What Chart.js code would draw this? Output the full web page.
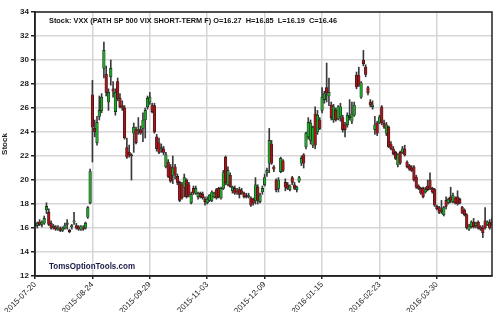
<!DOCTYPE html>
<html>
<head>
<meta charset="utf-8">
<script src="https://cdn.jsdelivr.net/npm/chart.js@4.4.1/dist/chart.umd.min.js"></script>
<style>
  html, body { margin: 0; padding: 0; background: #fff; }
  #chart { display: block; }
</style>
</head>
<body>
<canvas id="chart" width="500" height="312"></canvas>
<script>
// VXX daily candles, 2015-07-20 .. 2016-05-03
const titleText = 'Stock: VXX (PATH SP 500 VIX SHORT-TERM F) O=16.27  H=16.85  L=16.19  C=16.46';
const watermark = 'TomsOptionTools.com';
const tickLabels = ['2015-07-20', '2015-08-24', '2015-09-29', '2015-11-03', '2015-12-09', '2016-01-15', '2016-02-23', '2016-03-30'];
const holidays = ['2015-09-07', '2015-11-26', '2015-12-25', '2016-01-01', '2016-01-18', '2016-02-15', '2016-03-25'];

const opens = [
  16.3, 16.2, 16.5, 16.3, 16.4, 17.5, 17.3, 16.4, 16.05, 16.1,
  15.9, 16.0, 15.8, 16.0, 16.3, 15.8, 16.1, 16.5, 16.2, 16.1,
  15.9, 16.0, 16.0, 16.9, 18.1, 27.1, 24.3, 23.1, 25.3, 25.8,
  29.3, 28.8, 26.5, 28.6, 27.6, 25.7, 28.2, 26.8, 26.2, 26.0,
  22.7, 22.3, 22.1, 23.9, 24.2, 24.1, 24.2, 24.3, 25.0, 26.1,
  26.5, 26.2, 26.2, 23.6, 23.1, 22.6, 22.6, 21.1, 21.5, 21.1,
  20.4, 21.1, 20.3, 19.8, 19.6, 19.4, 20.0, 19.6, 18.1, 19.3,
  18.9, 18.6, 18.9, 18.8, 18.4, 18.1, 18.3, 18.3, 18.6, 19.2,
  19.3, 18.5, 19.3, 21.9, 19.6, 20.4, 19.1, 19.3, 19.1, 19.2,
  19.1, 18.9, 18.7, 18.6, 18.5, 18.4, 18.3, 19.4, 18.2, 19.0,
  19.6, 20.6, 21.4, 23.0, 21.1, 20.0, 19.3, 20.7, 21.6, 19.8,
  19.6, 19.2, 20.2, 19.6, 19.2, 19.9, 21.4, 22.1, 22.75, 23.6,
  23.3, 22.9, 25.5, 24.0, 25.0, 25.8, 26.7, 27.7, 27.0, 26.25,
  25.0, 25.8, 25.1, 25.3, 25.2, 24.6, 24.6, 25.2, 24.9, 25.4,
  28.75, 28.7, 26.9, 30.0, 29.4, 27.7, 26.5, 26.1, 24.2, 24.75,
  24.8, 26.1, 24.7, 23.9, 24.4, 23.0, 22.6, 22.3, 21.25, 22.3,
  22.3, 22.6, 21.5, 21.2, 21.0, 21.1, 20.25, 19.5, 19.3, 19.3,
  19.0, 19.5, 20.0, 19.3, 19.2, 17.8, 17.7, 17.5, 17.1, 18.3,
  18.1, 18.6, 18.2, 18.5, 18.6, 18.4, 17.75, 17.5, 17.1, 15.9,
  16.1, 16.5, 16.2, 16.5, 16.1, 16.0, 16.6, 16.3, 16.5, 16.27
];
const highs = [
  16.5, 16.5, 16.7, 16.6, 17.0, 18.1, 17.6, 16.6, 16.3, 16.2,
  16.2, 16.1, 16.1, 16.4, 16.7, 15.9, 16.3, 17.3, 16.4, 16.2,
  16.2, 16.2, 16.5, 17.8, 20.9, 28.3, 25.0, 25.3, 27.0, 27.2,
  31.5, 29.5, 27.6, 30.0, 28.2, 27.6, 28.5, 27.2, 26.6, 26.2,
  23.5, 22.9, 22.2, 24.75, 24.4, 25.2, 24.5, 25.6, 26.0, 27.0,
  27.3, 26.4, 26.4, 23.8, 23.5, 23.0, 22.8, 22.3, 21.7, 21.3,
  22.0, 21.3, 20.5, 19.9, 19.8, 20.5, 20.1, 19.8, 19.0, 19.5,
  19.5, 19.0, 19.0, 19.0, 18.6, 18.6, 18.8, 19.1, 19.0, 19.3,
  19.4, 19.4, 20.8, 22.0, 21.1, 20.6, 19.5, 19.5, 19.3, 19.4,
  19.3, 19.0, 18.9, 18.9, 18.6, 18.5, 20.2, 19.6, 18.9, 19.5,
  20.5, 21.0, 24.3, 23.3, 21.2, 20.1, 20.2, 21.9, 21.7, 20.1,
  19.8, 19.6, 20.3, 19.8, 19.5, 20.3, 22.0, 22.2, 24.0, 25.2,
  25.0, 24.5, 26.1, 25.8, 25.2, 27.7, 27.4, 29.75, 28.5, 26.5,
  26.3, 26.0, 26.2, 26.4, 25.4, 24.8, 25.6, 26.7, 26.5, 26.5,
  29.0, 29.4, 28.2, 30.8, 29.6, 27.8, 26.7, 26.6, 25.3, 24.9,
  25.4, 26.2, 25.0, 24.8, 24.5, 23.2, 22.8, 22.4, 22.2, 22.4,
  22.8, 22.9, 21.6, 21.3, 21.2, 21.2, 20.4, 19.6, 19.4, 19.4,
  19.4, 20.0, 20.6, 19.4, 19.3, 17.9, 17.8, 18.3, 17.8, 18.6,
  18.5, 19.4, 18.9, 18.6, 19.1, 18.5, 17.8, 17.6, 17.2, 16.3,
  16.6, 16.8, 16.5, 16.6, 16.2, 16.2, 17.7, 16.6, 16.7, 16.85
];
const lows = [
  16.1, 16.0, 16.2, 16.1, 16.3, 17.2, 16.2, 15.9, 15.9, 15.8,
  15.8, 15.7, 15.7, 15.9, 15.9, 15.6, 15.9, 16.3, 15.9, 15.8,
  15.8, 15.8, 15.9, 16.8, 18.0, 21.5, 23.6, 22.9, 25.0, 25.6,
  28.5, 27.0, 25.8, 27.9, 26.9, 25.4, 26.6, 26.0, 25.8, 23.4,
  21.8, 21.9, 20.0, 22.3, 23.0, 23.8, 23.8, 23.2, 23.5, 25.9,
  26.3, 25.6, 23.9, 22.4, 22.2, 22.3, 22.1, 21.0, 20.2, 19.8,
  19.7, 20.1, 19.6, 18.2, 18.4, 18.6, 18.5, 18.6, 18.0, 18.8,
  18.8, 18.4, 18.5, 18.4, 17.9, 18.0, 18.2, 18.2, 18.5, 18.4,
  18.5, 18.4, 19.2, 19.6, 19.5, 19.4, 18.9, 18.8, 18.8, 18.5,
  18.8, 18.5, 18.5, 18.5, 17.8, 17.9, 18.0, 18.0, 18.1, 18.8,
  19.5, 20.3, 20.6, 21.3, 20.7, 19.0, 19.0, 20.6, 20.7, 19.1,
  19.2, 19.1, 19.6, 19.2, 19.0, 19.8, 21.2, 21.0, 22.6, 23.4,
  23.0, 22.7, 22.6, 23.8, 24.2, 25.6, 26.4, 26.5, 26.2, 25.0,
  24.8, 24.9, 25.0, 24.9, 24.0, 23.6, 24.4, 25.0, 24.7, 25.3,
  27.6, 27.8, 26.8, 29.5, 28.6, 27.1, 26.1, 25.9, 23.8, 23.7,
  24.7, 24.6, 24.3, 23.7, 22.7, 22.5, 22.1, 21.7, 21.1, 21.3,
  22.2, 22.0, 21.0, 20.8, 20.7, 19.9, 19.3, 19.2, 18.8, 18.5,
  18.9, 19.1, 19.2, 18.9, 17.8, 17.5, 17.2, 17.2, 17.0, 17.6,
  18.0, 18.1, 18.1, 18.0, 17.9, 18.0, 17.2, 17.0, 15.9, 15.8,
  16.0, 16.0, 16.0, 15.9, 15.8, 15.2, 15.9, 16.2, 15.9, 16.19
];
const closes = [
  16.2, 16.4, 16.3, 16.5, 16.8, 17.8, 16.3, 16.0, 16.15, 15.9,
  16.0, 15.8, 16.0, 16.2, 16.4, 15.7, 16.2, 16.6, 16.0, 15.9,
  16.1, 15.9, 16.4, 17.7, 20.7, 24.4, 24.0, 24.8, 25.8, 26.9,
  30.8, 27.3, 27.3, 29.3, 27.4, 27.3, 26.8, 26.1, 26.0, 23.5,
  21.9, 22.1, 22.0, 24.4, 23.1, 24.2, 23.9, 25.0, 25.8, 26.8,
  26.9, 25.7, 24.0, 22.6, 22.3, 22.7, 22.3, 22.1, 20.3, 19.9,
  21.0, 20.4, 19.8, 18.3, 18.5, 20.2, 18.6, 18.8, 18.8, 18.9,
  19.3, 18.9, 18.6, 18.5, 18.2, 18.4, 18.75, 19.0, 18.9, 18.5,
  18.6, 19.3, 20.6, 19.75, 20.8, 19.45, 19.4, 18.9, 19.0, 18.8,
  18.9, 18.6, 18.6, 18.7, 17.9, 18.1, 19.6, 18.3, 18.75, 19.3,
  20.2, 20.8, 23.3, 21.4, 20.9, 19.2, 20.0, 21.8, 20.8, 19.4,
  19.3, 19.5, 19.8, 19.3, 19.4, 20.2, 21.8, 21.4, 23.9, 24.8,
  24.75, 24.4, 22.9, 25.4, 24.3, 26.9, 27.2, 27.25, 27.3, 25.2,
  26.1, 25.0, 26.1, 26.1, 24.2, 24.2, 25.4, 25.3, 25.5, 26.25,
  27.75, 27.9, 28.1, 29.7, 28.8, 27.25, 26.25, 26.2, 24.6, 23.9,
  25.25, 24.75, 24.4, 24.6, 22.75, 22.6, 22.2, 21.8, 22.1, 21.4,
  22.6, 22.1, 21.1, 20.9, 20.8, 20.0, 19.4, 19.3, 18.9, 18.6,
  19.2, 19.2, 19.3, 19.0, 17.9, 17.6, 17.3, 17.4, 17.7, 17.8,
  18.4, 18.3, 18.7, 18.1, 18.0, 18.1, 17.25, 17.1, 16.0, 16.1,
  16.5, 16.1, 16.4, 16.0, 15.9, 15.6, 16.0, 16.5, 16.0, 16.46
];

// trading days from the first date, skipping weekends and market holidays
const dates = [];
const d = new Date(Date.UTC(2015, 6, 20));
while (dates.length < closes.length) {
  const s = d.toISOString().slice(0, 10);
  const wd = d.getUTCDay();
  if (wd !== 0 && wd !== 6 && !holidays.includes(s)) dates.push(s);
  d.setUTCDate(d.getUTCDate() + 1);
}

const upColor = '#22a32a';
const downColor = '#a8141a';
const wickData = lows.map((l, i) => [l, highs[i]]);
const bodyData = opens.map((o, i) => [Math.min(o, closes[i]), Math.max(o, closes[i])]);
const bodyColors = opens.map((o, i) => closes[i] >= o ? upColor : downColor);

const FONT = 'Liberation Sans, Arial, sans-serif';

const overlay = {
  id: 'overlay',
  afterDraw(chart) {
    const { ctx, chartArea: a } = chart;
    ctx.save();
    ctx.strokeStyle = '#222';
    ctx.lineWidth = 1.5;
    ctx.strokeRect(a.left, a.top, a.right - a.left, a.bottom - a.top);
    ctx.fillStyle = '#111';
    ctx.font = 'bold 8px ' + FONT;
    ctx.textBaseline = 'middle';
    ctx.textAlign = 'left';
    ctx.fillText(titleText, 49, 21, 288);
    ctx.fillStyle = '#1b1b48';
    ctx.font = 'bold 8.5px ' + FONT;
    ctx.fillText(watermark, 49, 267, 86);
    ctx.restore();
  }
};

new Chart(document.getElementById('chart'), {
  type: 'bar',
  data: {
    labels: dates,
    datasets: [
      {
        data: wickData,
        backgroundColor: '#3a3a3a',
        barThickness: 1,
        grouped: false,
        order: 2
      },
      {
        data: bodyData,
        backgroundColor: bodyColors,
        borderColor: '#1a1a1a',
        borderWidth: 0.6,
        borderSkipped: false,
        barThickness: 2.6,
        minBarLength: 1,
        grouped: false,
        order: 1
      }
    ]
  },
  options: {
    responsive: false,
    animation: false,
    layout: { padding: { top: 12, right: 8, left: 0, bottom: 0 } },
    plugins: { legend: { display: false }, tooltip: { enabled: false } },
    scales: {
      x: {
        type: 'category',
        offset: false,
        afterFit: s => { s.height = 36; },
        grid: { offset: false, color: '#d6d6d6', lineWidth: 1.5, tickColor: '#222', tickLength: 3 },
        border: { display: true, color: '#222', width: 1.5 },
        ticks: {
          autoSkip: false,
          minRotation: 45,
          maxRotation: 45,
          padding: 1,
          color: '#222',
          font: { family: FONT, size: 8 },
          callback: function (val) {
            const lab = this.getLabelForValue(val);
            return tickLabels.includes(lab) ? lab : null;
          }
        }
      },
      y: {
        min: 12,
        max: 34,
        afterFit: s => { s.width = 35; },
        grid: { color: '#d6d6d6', lineWidth: 1.5, tickColor: '#222', tickLength: 4 },
        border: { display: true, color: '#222', width: 1.5 },
        title: { display: true, text: 'Stock', color: '#222', font: { family: FONT, size: 8, weight: 'bold' }, padding: 0 },
        ticks: {
          stepSize: 2,
          padding: 2,
          color: '#222',
          font: { family: FONT, size: 8, weight: 'bold' }
        }
      }
    }
  },
  plugins: [overlay]
});
</script>
</body>
</html>
